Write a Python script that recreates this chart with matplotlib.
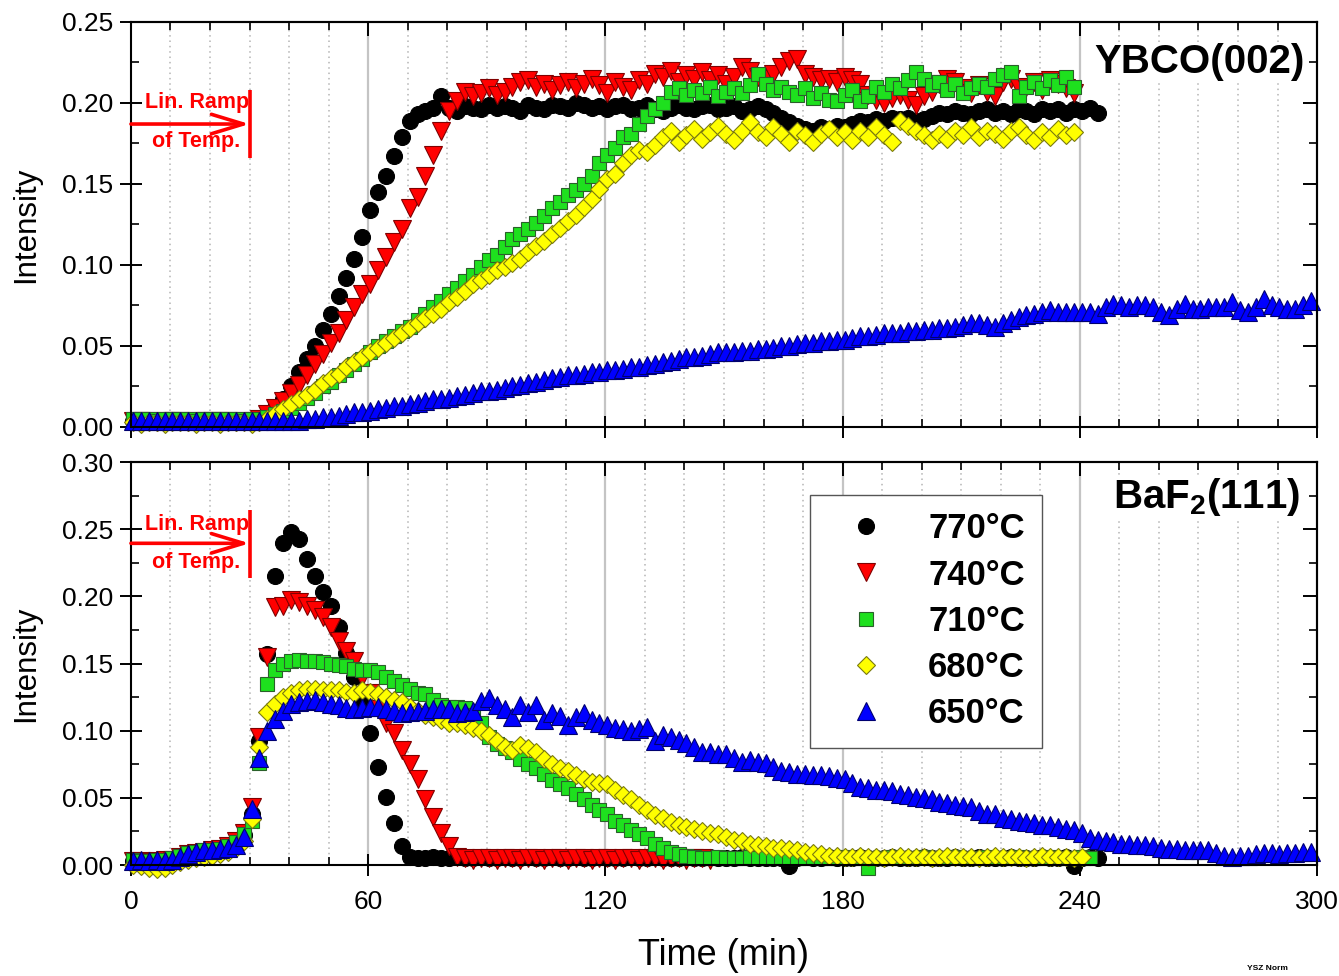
import numpy as np
import matplotlib
matplotlib.use("Agg")
import matplotlib.pyplot as plt
from matplotlib.ticker import MultipleLocator
from matplotlib.lines import Line2D

plt.rcParams['font.family'] = ['Liberation Sans', 'DejaVu Sans']
plt.rcParams['mathtext.fontset'] = 'custom'
plt.rcParams['mathtext.bf'] = 'Liberation Sans:bold'
plt.rcParams['mathtext.rm'] = 'Liberation Sans:bold'

# sampling: one scan every 2 min, first scan at 0.5 min
T0, STEP = 0.5, 2.0

labels = ["770°C", "740°C", "710°C", "680°C", "650°C"]

# ---------------- YBCO(002) intensities ----------------
ybco_770 = [0.004, 0.004, 0.003, 0.004, 0.004, 0.003, 0.004, 0.004, 0.003, 0.004,
            0.004, 0.004, 0.003, 0.004, 0.004, 0.004, 0.005,
            0.008, 0.012, 0.017, 0.025, 0.034, 0.042, 0.050, 0.060, 0.070, 0.081,
            0.092, 0.104, 0.117, 0.134, 0.145, 0.155, 0.167, 0.179, 0.189, 0.193,
            0.195, 0.197, 0.204, 0.197, 0.195, 0.198, 0.197, 0.196, 0.199, 0.197,
            0.198, 0.197, 0.195, 0.199, 0.197, 0.196, 0.199, 0.198, 0.197, 0.200,
            0.199, 0.197, 0.198, 0.196, 0.198, 0.199, 0.196, 0.197, 0.199, 0.196,
            0.195, 0.197, 0.199, 0.197, 0.196, 0.198, 0.199, 0.196, 0.197, 0.198,
            0.195, 0.196, 0.198, 0.196, 0.194, 0.191, 0.188, 0.186, 0.184, 0.183,
            0.185, 0.184, 0.186, 0.185, 0.187, 0.189, 0.188, 0.190, 0.189, 0.191,
            0.190, 0.191, 0.189, 0.190, 0.192, 0.194, 0.193, 0.195, 0.194, 0.193,
            0.195, 0.196, 0.194, 0.195, 0.193, 0.196, 0.195, 0.193, 0.196, 0.195,
            0.196, 0.194, 0.196, 0.195, 0.197, 0.194]
ybco_740 = [0.004, 0.004, 0.004, 0.003, 0.004, 0.004, 0.004, 0.003, 0.004, 0.004,
            0.004, 0.004, 0.004, 0.003, 0.004, 0.004, 0.005,
            0.008, 0.012, 0.016, 0.021, 0.026, 0.032, 0.039, 0.045, 0.052, 0.058,
            0.066, 0.074, 0.082, 0.088, 0.097, 0.105, 0.114, 0.122, 0.135, 0.142,
            0.155, 0.168, 0.183, 0.195, 0.201, 0.207, 0.204, 0.206, 0.209, 0.205,
            0.207, 0.210, 0.213, 0.214, 0.210, 0.212, 0.208, 0.211, 0.213, 0.209,
            0.212, 0.215, 0.211, 0.206, 0.213, 0.210, 0.208, 0.214, 0.212, 0.218,
            0.216, 0.220, 0.213, 0.217, 0.215, 0.219, 0.214, 0.217, 0.212, 0.216,
            0.222, 0.220, 0.216, 0.215, 0.218, 0.222, 0.226, 0.227, 0.218, 0.216,
            0.214, 0.215, 0.213, 0.216, 0.214, 0.212, 0.205, 0.202, 0.200, 0.203,
            0.205, 0.202, 0.199, 0.204, 0.207, 0.212, 0.215, 0.213, 0.209, 0.206,
            0.211, 0.207, 0.204, 0.213, 0.215, 0.209, 0.210, 0.213, 0.208, 0.214,
            0.212, 0.209, 0.206]
ybco_710 = [0.005, 0.005, 0.005, 0.004, 0.005, 0.005, 0.005, 0.005, 0.004, 0.005,
            0.005, 0.005, 0.005, 0.005, 0.004, 0.005, 0.005,
            0.006, 0.008, 0.010, 0.012, 0.015, 0.018, 0.021, 0.025, 0.028, 0.032,
            0.035, 0.039, 0.042, 0.046, 0.050, 0.053, 0.056, 0.059, 0.062, 0.066,
            0.070, 0.074, 0.078, 0.082, 0.086, 0.090, 0.094, 0.099, 0.103, 0.106,
            0.111, 0.116, 0.119, 0.122, 0.126, 0.130, 0.135, 0.139, 0.143, 0.146,
            0.150, 0.155, 0.163, 0.168, 0.172, 0.179, 0.181, 0.187, 0.192, 0.196,
            0.200, 0.207, 0.209, 0.205, 0.208, 0.206, 0.210, 0.204, 0.207, 0.209,
            0.206, 0.211, 0.218, 0.212, 0.208, 0.210, 0.207, 0.205, 0.209, 0.203,
            0.206, 0.202, 0.201, 0.205, 0.208, 0.201, 0.204, 0.210, 0.207, 0.212,
            0.209, 0.214, 0.219, 0.215, 0.211, 0.213, 0.208, 0.212, 0.206, 0.209,
            0.212, 0.210, 0.215, 0.217, 0.219, 0.204, 0.210, 0.213, 0.209, 0.214,
            0.211, 0.216, 0.210]
ybco_680 = [0.003, 0.002, 0.003, 0.003, 0.002, 0.003, 0.003, 0.003, 0.002, 0.003,
            0.003, 0.002, 0.003, 0.003, 0.003, 0.002, 0.003,
            0.005, 0.008, 0.011, 0.014, 0.017, 0.020, 0.023, 0.027, 0.030, 0.033,
            0.037, 0.040, 0.043, 0.046, 0.049, 0.052, 0.055, 0.058, 0.061, 0.064,
            0.067, 0.070, 0.073, 0.077, 0.080, 0.084, 0.088, 0.091, 0.094, 0.097,
            0.099, 0.101, 0.104, 0.108, 0.112, 0.115, 0.119, 0.123, 0.127, 0.131,
            0.136, 0.141, 0.147, 0.153, 0.156, 0.163, 0.168, 0.171, 0.170, 0.174,
            0.179, 0.183, 0.176, 0.180, 0.184, 0.178, 0.182, 0.186, 0.181, 0.177,
            0.183, 0.188, 0.182, 0.179, 0.185, 0.181, 0.176, 0.183, 0.180, 0.176,
            0.181, 0.184, 0.179, 0.182, 0.177, 0.183, 0.179, 0.185, 0.180, 0.176,
            0.189, 0.186, 0.183, 0.180, 0.177, 0.181, 0.178, 0.183, 0.180, 0.185,
            0.179, 0.183, 0.181, 0.178, 0.183, 0.185, 0.180, 0.177, 0.182, 0.179,
            0.184, 0.180, 0.182]
ybco_650 = [0.004, 0.004, 0.004, 0.004, 0.004, 0.004, 0.004, 0.004, 0.004, 0.004,
            0.004, 0.004, 0.004, 0.004, 0.004, 0.004, 0.004, 0.004, 0.004, 0.004,
            0.004, 0.004, 0.005, 0.005, 0.006, 0.006, 0.007, 0.008, 0.009, 0.009,
            0.010, 0.011, 0.012, 0.013, 0.013, 0.014, 0.015, 0.016, 0.017, 0.017,
            0.018, 0.019, 0.020, 0.021, 0.022, 0.022, 0.023, 0.024, 0.025, 0.026,
            0.027, 0.028, 0.029, 0.030, 0.031, 0.032, 0.032, 0.033, 0.034, 0.034,
            0.035, 0.035, 0.036, 0.037, 0.037, 0.038, 0.039, 0.040, 0.041, 0.042,
            0.043, 0.043, 0.044, 0.045, 0.046, 0.046, 0.046, 0.047, 0.047, 0.048,
            0.048, 0.049, 0.050, 0.050, 0.051, 0.052, 0.052, 0.053, 0.053, 0.054,
            0.054, 0.055, 0.056, 0.056, 0.057, 0.058, 0.058, 0.058, 0.059, 0.059,
            0.060, 0.060, 0.061, 0.061, 0.062, 0.063, 0.064, 0.064, 0.063, 0.062,
            0.064, 0.066, 0.068, 0.069, 0.070, 0.071, 0.072, 0.071, 0.071, 0.071,
            0.071, 0.071, 0.070, 0.074, 0.076, 0.075, 0.074, 0.075, 0.075, 0.074,
            0.071, 0.069, 0.073, 0.076, 0.073, 0.073, 0.074, 0.074, 0.074, 0.077,
            0.072, 0.071, 0.074, 0.079, 0.075, 0.074, 0.073, 0.073, 0.075, 0.078]

# ---------------- BaF2(111) intensities ----------------
baf2_770 = [0.003, 0.002, 0.002, 0.003, 0.003, 0.004, 0.006, 0.008, 0.010, 0.010,
            0.011, 0.012, 0.014, 0.017, 0.022, 0.038, 0.092, 0.157, 0.215, 0.240,
            0.248, 0.243, 0.228, 0.215, 0.203, 0.193, 0.177, 0.158, 0.140, 0.120,
            0.098, 0.073, 0.051, 0.031, 0.014, 0.006,
            0.005, 0.005, 0.006, 0.005, 0.005, 0.006, 0.005, 0.005, 0.006, 0.005,
            0.005, 0.006, 0.005, 0.005, 0.006, 0.005, 0.005, 0.006, 0.005, 0.005,
            0.006, 0.005, 0.005, 0.006, 0.005, 0.005, 0.005, 0.006, 0.005, 0.005,
            0.006, 0.005, 0.005, 0.005, 0.006, 0.005, 0.005, 0.006, 0.005, 0.005,
            0.005, 0.006, 0.005, 0.005, 0.005, 0.005, 0.005, -0.001, 0.005, 0.006,
            0.005, 0.005, 0.006, 0.005, 0.005, 0.005, 0.006, 0.005, 0.005, 0.005,
            0.006, 0.005, 0.005, 0.005, 0.006, 0.005, 0.005, 0.005, 0.006, 0.005,
            0.005, 0.006, 0.005, 0.005, 0.005, 0.006, 0.005, 0.005, 0.005, 0.006,
            0.005, 0.005, 0.006, -0.001, 0.005, 0.006, 0.005]
baf2_740 = [0.003, 0.003, 0.002, 0.003, 0.004, 0.004, 0.006, 0.008, 0.009, 0.010,
            0.011, 0.012, 0.014, 0.018, 0.024, 0.043, 0.095, 0.155, 0.192, 0.193,
            0.197, 0.196, 0.193, 0.190, 0.185, 0.177, 0.167, 0.159, 0.152, 0.140,
            0.128, 0.116, 0.106, 0.098, 0.086, 0.075, 0.064, 0.049, 0.036, 0.024,
            0.014, 0.006,
            0.005, 0.004, 0.005, 0.005, 0.004, 0.005, 0.005, 0.004, 0.005, 0.005,
            0.004, 0.005, 0.005, 0.004, 0.005, 0.005, 0.004, 0.005, 0.005, 0.004,
            0.005, 0.005, 0.004, 0.005, 0.005, 0.004, 0.005, 0.005, 0.004, 0.005,
            0.005, 0.004]
baf2_710 = [0.004, 0.003, 0.003, 0.004, 0.004, 0.005, 0.007, 0.009, 0.010, 0.011,
            0.011, 0.012, 0.014, 0.017, 0.023, 0.033, 0.076, 0.135, 0.145, 0.150,
            0.152, 0.153, 0.152, 0.152, 0.151, 0.150, 0.149, 0.148, 0.146, 0.145,
            0.145, 0.144, 0.140, 0.137, 0.134, 0.131, 0.128, 0.127, 0.123, 0.119,
            0.118, 0.118, 0.117, 0.112, 0.106, 0.095, 0.090, 0.087, 0.084, 0.079,
            0.075, 0.072, 0.068, 0.063, 0.060, 0.057, 0.053, 0.049, 0.045, 0.041,
            0.038, 0.033, 0.030, 0.026, 0.023, 0.020, 0.016, 0.013, 0.010, 0.008,
            0.007, 0.006,
            0.005, 0.005, 0.006, 0.005, 0.005, 0.005, 0.006, 0.005, 0.005, 0.005,
            0.006, 0.005, 0.005, 0.005, 0.006, 0.005, 0.005, 0.005, 0.006, 0.005,
            0.005, -0.002, 0.005, 0.005, 0.006, 0.005, 0.005, 0.005, 0.006, 0.005,
            0.005, 0.005, 0.006, 0.005, 0.005, 0.005, 0.006, 0.005, 0.005, 0.005,
            0.006, 0.005, 0.005, 0.005, 0.006, 0.005, 0.005, 0.005, 0.006, 0.005]
baf2_680 = [0.000, -0.001, -0.002, -0.003, -0.002, 0.000, 0.002, 0.004, 0.005, 0.006,
            0.007, 0.008, 0.010, 0.013, 0.018, 0.034, 0.088, 0.114, 0.120, 0.125,
            0.128, 0.130, 0.131, 0.131, 0.130, 0.130, 0.130, 0.129, 0.128, 0.130,
            0.129, 0.127, 0.125, 0.123, 0.121, 0.118, 0.115, 0.112, 0.110, 0.108,
            0.106, 0.106, 0.104, 0.102, 0.100, 0.097, 0.092, 0.088, 0.086, 0.089,
            0.087, 0.084, 0.079, 0.075, 0.072, 0.070, 0.067, 0.064, 0.062, 0.061,
            0.060, 0.056, 0.052, 0.049, 0.045, 0.041, 0.037, 0.035, 0.032, 0.030,
            0.028, 0.027, 0.025, 0.024, 0.023, 0.021, 0.019, 0.018, 0.016, 0.015,
            0.014, 0.013, 0.013, 0.012, 0.011, 0.010, 0.009, 0.008, 0.007, 0.007,
            0.006, 0.006, 0.007, 0.006, 0.006, 0.005, 0.006, 0.007, 0.006, 0.006,
            0.006, 0.005, 0.006, 0.007, 0.006, 0.006, 0.006, 0.005, 0.006, 0.007,
            0.006, 0.006, 0.006, 0.005, 0.006, 0.007, 0.006, 0.006, 0.006, 0.005,
            0.006]
baf2_650 = [0.003, 0.004, 0.003, 0.004, 0.003, 0.004, 0.006, 0.008, 0.010, 0.011,
            0.011, 0.012, 0.013, 0.015, 0.021, 0.042, 0.080, 0.100, 0.109, 0.115,
            0.120, 0.121, 0.122, 0.123, 0.121, 0.120, 0.119, 0.117, 0.116, 0.117,
            0.118, 0.118, 0.116, 0.115, 0.113, 0.114, 0.115, 0.115, 0.116, 0.116,
            0.116, 0.113, 0.114, 0.115, 0.122, 0.124, 0.119, 0.116, 0.110, 0.119,
            0.114, 0.119, 0.108, 0.113, 0.111, 0.104, 0.110, 0.113, 0.108, 0.106,
            0.104, 0.102, 0.101, 0.100, 0.101, 0.103, 0.092, 0.097, 0.095, 0.093,
            0.091, 0.088, 0.084, 0.084, 0.083, 0.083, 0.080, 0.077, 0.078, 0.077,
            0.076, 0.073, 0.070, 0.069, 0.068, 0.068, 0.067, 0.067, 0.066, 0.065,
            0.064, 0.061, 0.058, 0.057, 0.056, 0.056, 0.055, 0.053, 0.052, 0.051,
            0.050, 0.049, 0.047, 0.046, 0.045, 0.044, 0.043, 0.040, 0.038, 0.038,
            0.035, 0.034, 0.033, 0.032, 0.031, 0.030, 0.030, 0.028, 0.027, 0.026,
            0.024, 0.020, 0.019, 0.018, 0.017, 0.016, 0.016, 0.015, 0.015, 0.014,
            0.013, 0.012, 0.012, 0.011, 0.011, 0.011, 0.011, 0.009, 0.007, 0.006,
            0.007, 0.007, 0.008, 0.009, 0.009, 0.008, 0.009, 0.009, 0.010, 0.010]

ybco_series = [ybco_770, ybco_740, ybco_710, ybco_680, ybco_650]
baf2_series = [baf2_770, baf2_740, baf2_710, baf2_680, baf2_650]

# marker styling per temperature
styles = [
    dict(marker='o', ms=11.5, mfc='#000000', mec='#000000'),
    dict(marker='v', ms=12.5, mfc='#ff0000', mec='#800000'),
    dict(marker='s', ms=10.5, mfc='#1ee01e', mec='#2a602a'),
    dict(marker='D', ms=9.6, mfc='#ffff00', mec='#7a7a10'),
    dict(marker='^', ms=12.5, mfc='#0000ff', mec='#000070'),
]

fig = plt.figure(figsize=(13.39, 9.76), dpi=100)
ax_top = fig.add_axes([0.0978, 0.5625, 0.8858, 0.4150])
ax_bot = fig.add_axes([0.0978, 0.1137, 0.8858, 0.4129])

x_major = [0, 60, 120, 180, 240, 300]


def style_axes(ax, ymax, show_xlabels):
    ax.set_xlim(0, 300)
    ax.set_ylim(0, ymax)
    ax.set_xticks(x_major)
    ax.xaxis.set_minor_locator(MultipleLocator(10))
    ax.set_yticks(np.round(np.arange(0, ymax + 1e-9, 0.05), 2))
    ax.yaxis.set_minor_locator(MultipleLocator(0.025))
    ax.yaxis.set_major_formatter(matplotlib.ticker.FormatStrFormatter('%.2f'))
    ax.tick_params(which='major', direction='inout', length=16, width=1.4,
                   labelsize=19, color='black')
    ax.tick_params(axis='y', which='major', pad=5)
    ax.tick_params(axis='x', which='major', pad=10)
    ax.tick_params(which='minor', direction='in', length=6, width=1.2)
    if not show_xlabels:
        ax.tick_params(axis='x', labelbottom=False)
    for sp in ax.spines.values():
        sp.set_linewidth(1.5)
        sp.set_zorder(4)
    # vertical grid: solid at majors, dotted every 10 min
    for xv in np.arange(10, 300, 10):
        if xv % 60 == 0:
            ax.axvline(xv, color='#c4c4c4', lw=1.6, zorder=0)
        else:
            ax.axvline(xv, color='#b4b4b4', lw=1.1, ls=(0, (1, 2.5)), zorder=0)
    # inward ticks on the right and top edges
    sec_y = ax.secondary_yaxis('right')
    sec_y.set_yticks(ax.get_yticks())
    sec_y.yaxis.set_minor_locator(MultipleLocator(0.025))
    sec_y.tick_params(which='major', direction='in', length=10, width=1.4, labelright=False)
    sec_y.tick_params(which='minor', direction='in', length=6, width=1.2)
    sec_y.spines['right'].set_linewidth(1.5)
    sec_x = ax.secondary_xaxis('top')
    sec_x.set_xticks(x_major)
    sec_x.xaxis.set_minor_locator(MultipleLocator(10))
    sec_x.tick_params(which='major', direction='in', length=10, width=1.4, labeltop=False)
    sec_x.tick_params(which='minor', direction='in', length=6, width=1.2)
    sec_x.spines['top'].set_linewidth(1.5)


style_axes(ax_top, 0.25, False)
style_axes(ax_bot, 0.30, True)

for ax, series in ((ax_top, ybco_series), (ax_bot, baf2_series)):
    for vals, st in zip(series, styles):
        t = T0 + STEP * np.arange(len(vals))
        ax.plot(t, vals, ls='none', mew=0.8, clip_on=False, zorder=3, **st)

for ax in (ax_top, ax_bot):
    ax.set_ylabel('Intensity', fontsize=22.5)
    ax.yaxis.set_label_coords(-0.076, 0.5)

ax_bot.set_xlabel('Time (min)', fontsize=26)
ax_bot.xaxis.set_label_coords(0.5, -0.182)

# phase labels
ax_top.text(0.99, 0.90, 'YBCO(002)', transform=ax_top.transAxes, ha='right', va='center',
            fontsize=29, fontweight='bold', zorder=5,
            bbox=dict(facecolor='white', edgecolor='none', pad=1))
ax_bot.text(0.986, 0.913, r'$\mathbf{BaF_2(111)}$', transform=ax_bot.transAxes,
            ha='right', va='center', fontsize=29, zorder=5,
            bbox=dict(facecolor='white', edgecolor='none', pad=1))

# temperature ramp markers (ramp ends at 30 min)
ramp_end = 30
for ax, y_arrow, y_lo, y_hi, y_t1, y_t2 in (
        (ax_top, 0.187, 0.166, 0.208, 0.2000, 0.1765),
        (ax_bot, 0.2395, 0.2135, 0.264, 0.2535, 0.2255)):
    ax.annotate('', xy=(ramp_end, y_arrow), xytext=(0, y_arrow),
                arrowprops=dict(arrowstyle='->,head_length=1.15,head_width=0.35',
                                color='#ff0000', lw=2.6, shrinkA=0, shrinkB=0,
                                mutation_scale=20), zorder=6)
    ax.plot([ramp_end, ramp_end], [y_lo, y_hi], color='#ff0000', lw=2.6, zorder=6,
            solid_capstyle='butt')
    ax.text(16.6, y_t1, 'Lin. Ramp', color='#ff0000', fontsize=15.5, fontweight='bold',
            ha='center', va='center', zorder=6)
    ax.text(16.6, y_t2, 'of Temp.', color='#ff0000', fontsize=15.5, fontweight='bold',
            ha='center', va='center', zorder=6)

# legend
handles = [Line2D([], [], ls='none', mew=0.8, **st) for st in styles]
leg = ax_bot.legend(handles, labels, loc='upper left', bbox_to_anchor=(0.5725, 0.918),
                    borderaxespad=0, frameon=True, fancybox=False, framealpha=1,
                    edgecolor='#555555', prop=dict(family='Liberation Sans', weight='bold', size=25),
                    handlelength=2.2, handletextpad=0.7, labelspacing=0.38,
                    borderpad=0.5, numpoints=1)
leg.get_frame().set_linewidth(1.0)
leg.set_zorder(7)

fig.text(0.931, 0.004, 'YSZ Norm', fontsize=6, fontweight='bold', ha='left', va='bottom')

fig.savefig('out.png', dpi=100, facecolor='white')
